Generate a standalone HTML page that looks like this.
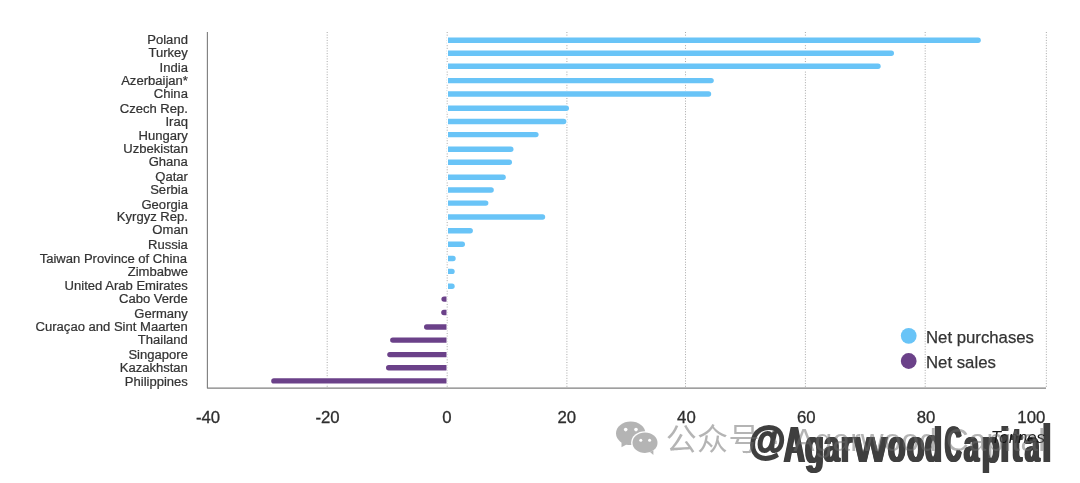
<!DOCTYPE html>
<html lang="en"><head><meta charset="utf-8"><title>Net purchases and net sales, tonnes</title>
<style>
html,body{margin:0;padding:0;background:#fff;}
body{width:1080px;height:483px;overflow:hidden;position:relative;font-family:"Liberation Sans","Noto Sans CJK SC",sans-serif;}
svg{position:absolute;left:0;top:0;display:block}
text{font-family:"Liberation Sans","Noto Sans CJK SC",sans-serif;}
.lab{font-size:13.05px;fill:#333;text-anchor:end;stroke:#333;stroke-width:0.22px}
.tick{font-size:16.75px;fill:#2e2e2e;stroke:#2e2e2e;stroke-width:0.3px}
.leg text{font-size:16.75px;fill:#333;stroke:#333;stroke-width:0.25px}
.grid{stroke:#a8a8a8;stroke-width:1;stroke-dasharray:1 1.64;fill:none}
.axis{stroke:#808080;stroke-width:1.15;fill:none;stroke-linejoin:round}
</style></head><body>
<svg width="1080" height="483" viewBox="0 0 1080 483">
<rect width="1080" height="483" fill="#fff"/>

<g class="grid">
<line x1="327.20" y1="32" x2="327.20" y2="388"/>
<line x1="447.20" y1="32" x2="447.20" y2="388"/>
<line x1="566.90" y1="32" x2="566.90" y2="388"/>
<line x1="685.50" y1="32" x2="685.50" y2="388"/>
<line x1="805.40" y1="32" x2="805.40" y2="388"/>
<line x1="925.20" y1="32" x2="925.20" y2="388"/>
<line x1="1046.35" y1="32" x2="1046.35" y2="388"/>
</g>
<g id="bars" stroke="#fff" stroke-width="2" paint-order="stroke">
<path d="M448.00 37.50 H978.10 A2.70 2.70 0 0 1 978.10 42.90 H448.00 Z" fill="#69c4f7"/>
<path d="M448.00 50.60 H891.30 A2.70 2.70 0 0 1 891.30 56.00 H448.00 Z" fill="#69c4f7"/>
<path d="M448.00 63.60 H878.00 A2.70 2.70 0 0 1 878.00 69.00 H448.00 Z" fill="#69c4f7"/>
<path d="M448.00 77.90 H711.10 A2.70 2.70 0 0 1 711.10 83.30 H448.00 Z" fill="#69c4f7"/>
<path d="M448.00 91.30 H708.50 A2.70 2.70 0 0 1 708.50 96.70 H448.00 Z" fill="#69c4f7"/>
<path d="M448.00 105.60 H566.30 A2.70 2.70 0 0 1 566.30 111.00 H448.00 Z" fill="#69c4f7"/>
<path d="M448.00 118.75 H563.70 A2.70 2.70 0 0 1 563.70 124.15 H448.00 Z" fill="#69c4f7"/>
<path d="M448.00 131.90 H535.90 A2.70 2.70 0 0 1 535.90 137.30 H448.00 Z" fill="#69c4f7"/>
<path d="M448.00 146.60 H510.80 A2.70 2.70 0 0 1 510.80 152.00 H448.00 Z" fill="#69c4f7"/>
<path d="M448.00 159.60 H509.30 A2.70 2.70 0 0 1 509.30 165.00 H448.00 Z" fill="#69c4f7"/>
<path d="M448.00 174.50 H503.10 A2.70 2.70 0 0 1 503.10 179.90 H448.00 Z" fill="#69c4f7"/>
<path d="M448.00 187.30 H491.10 A2.70 2.70 0 0 1 491.10 192.70 H448.00 Z" fill="#69c4f7"/>
<path d="M448.00 200.40 H485.70 A2.70 2.70 0 0 1 485.70 205.80 H448.00 Z" fill="#69c4f7"/>
<path d="M448.00 214.30 H542.50 A2.70 2.70 0 0 1 542.50 219.70 H448.00 Z" fill="#69c4f7"/>
<path d="M448.00 228.10 H470.20 A2.70 2.70 0 0 1 470.20 233.50 H448.00 Z" fill="#69c4f7"/>
<path d="M448.00 241.50 H462.30 A2.70 2.70 0 0 1 462.30 246.90 H448.00 Z" fill="#69c4f7"/>
<path d="M448.00 255.80 H453.00 A2.70 2.70 0 0 1 453.00 261.20 H448.00 Z" fill="#69c4f7"/>
<path d="M448.00 268.70 H452.00 A2.70 2.70 0 0 1 452.00 274.10 H448.00 Z" fill="#69c4f7"/>
<path d="M448.00 283.60 H452.00 A2.70 2.70 0 0 1 452.00 289.00 H448.00 Z" fill="#69c4f7"/>
<path d="M446.50 296.40 H444.10 A2.70 2.70 0 0 0 444.10 301.80 H446.50 Z" fill="#6b4189"/>
<path d="M446.50 309.75 H443.90 A2.70 2.70 0 0 0 443.90 315.15 H446.50 Z" fill="#6b4189"/>
<path d="M446.50 324.35 H426.70 A2.70 2.70 0 0 0 426.70 329.75 H446.50 Z" fill="#6b4189"/>
<path d="M446.50 337.40 H392.80 A2.70 2.70 0 0 0 392.80 342.80 H446.50 Z" fill="#6b4189"/>
<path d="M446.50 351.90 H389.90 A2.70 2.70 0 0 0 389.90 357.30 H446.50 Z" fill="#6b4189"/>
<path d="M446.50 365.10 H388.70 A2.70 2.70 0 0 0 388.70 370.50 H446.50 Z" fill="#6b4189"/>
<path d="M446.50 378.20 H273.90 A2.70 2.70 0 0 0 273.90 383.60 H446.50 Z" fill="#6b4189"/>
</g>
<path class="axis" d="M207.4 32 V388.05 H1046"/>
<g class="lab">
<text x="187.9" y="44.2">Poland</text>
<text x="187.9" y="57.1">Turkey</text>
<text x="187.9" y="71.7">India</text>
<text x="187.9" y="84.9">Azerbaijan*</text>
<text x="187.9" y="97.8">China</text>
<text x="187.9" y="112.5">Czech Rep.</text>
<text x="187.9" y="125.8">Iraq</text>
<text x="187.9" y="140.2">Hungary</text>
<text x="187.9" y="153.0">Uzbekistan</text>
<text x="187.9" y="165.9">Ghana</text>
<text x="187.9" y="180.9">Qatar</text>
<text x="187.9" y="193.8">Serbia</text>
<text x="187.9" y="208.7">Georgia</text>
<text x="187.9" y="221.2">Kyrgyz Rep.</text>
<text x="187.9" y="234.2">Oman</text>
<text x="187.9" y="249.4">Russia</text>
<text x="186.9" y="262.7">Taiwan Province of China</text>
<text x="187.9" y="276.0">Zimbabwe</text>
<text x="187.9" y="290.0">United Arab Emirates</text>
<text x="187.9" y="303.2">Cabo Verde</text>
<text x="187.9" y="317.7">Germany</text>
<text x="187.9" y="331.0">Curaçao and Sint Maarten</text>
<text x="187.9" y="343.7">Thailand</text>
<text x="187.9" y="358.6">Singapore</text>
<text x="187.9" y="371.7">Kazakhstan</text>
<text x="187.9" y="385.8">Philippines</text>
</g>
<g class="tick">
<text transform="translate(208.0 423.4) scale(1 0.945)" text-anchor="middle">-40</text>
<text transform="translate(327.5 423.4) scale(1 0.945)" text-anchor="middle">-20</text>
<text transform="translate(446.9 423.4) scale(1 0.945)" text-anchor="middle">0</text>
<text transform="translate(566.8 423.4) scale(1 0.945)" text-anchor="middle">20</text>
<text transform="translate(686.4 423.4) scale(1 0.945)" text-anchor="middle">40</text>
<text transform="translate(806.2 423.4) scale(1 0.945)" text-anchor="middle">60</text>
<text transform="translate(926.0 423.4) scale(1 0.945)" text-anchor="middle">80</text>
<text transform="translate(1045.3 423.4) scale(1 0.945)" text-anchor="end">100</text>
</g>
<g class="leg">
<circle cx="908.7" cy="335.8" r="7.9" fill="#69c4f7"/><text x="926" y="342.7">Net purchases</text>
<circle cx="908.7" cy="361" r="7.9" fill="#6b4189"/><text x="926" y="367.7">Net sales</text>
</g>
<text x="1045" y="443" text-anchor="end" font-size="16.75" font-style="italic" fill="#1a1a1a">Tonnes</text>
</svg>
<div id="wm-dark" style="position:absolute;left:748.80px;top:414.70px;height:60px;opacity:0.82;color:#151515;font-weight:bold;font-size:50px;line-height:60px;white-space:nowrap"><span style="display:inline-block;width:35.64px;font-size:40.5px;line-height:40px;vertical-align:7.67px;transform-origin:0 0;transform:scaleX(0.920);-webkit-text-stroke:2.2px #151515">@</span><span style="display:inline-block;width:20.69px;transform-origin:0 47.3px;transform:scale(0.5729,1.000);text-shadow:-2.30px 0 0 #151515,2.30px 0 0 #151515,-1.15px 0 0 #151515,1.15px 0 0 #151515">A</span><span style="display:inline-block;width:18.72px;position:relative;top:1.2px;transform-origin:0 47.3px;transform:scale(0.6174,0.950);text-shadow:-2.20px 0 0 #151515,2.20px 0 0 #151515,-1.10px 0 0 #151515,1.10px 0 0 #151515">g</span><span style="display:inline-block;width:17.62px;transform-origin:0 47.3px;transform:scale(0.5573,0.915);text-shadow:-2.20px 0 0 #151515,2.20px 0 0 #151515,-1.10px 0 0 #151515,1.10px 0 0 #151515">a</span><span style="display:inline-block;width:12.84px;transform-origin:0 47.3px;transform:scale(0.5690,0.915);text-shadow:-2.20px 0 0 #151515,2.20px 0 0 #151515,-1.10px 0 0 #151515,1.10px 0 0 #151515">r</span><span style="display:inline-block;width:34.12px;transform-origin:0 47.3px;transform:scale(0.8538,0.915);text-shadow:-1.00px 0 0 #151515,1.00px 0 0 #151515,-0.50px 0 0 #151515,0.50px 0 0 #151515">w</span><span style="display:inline-block;width:19.11px;transform-origin:0 47.3px;transform:scale(0.5684,0.915);text-shadow:-2.20px 0 0 #151515,2.20px 0 0 #151515,-1.10px 0 0 #151515,1.10px 0 0 #151515">o</span><span style="display:inline-block;width:17.99px;transform-origin:0 47.3px;transform:scale(0.5684,0.915);text-shadow:-2.20px 0 0 #151515,2.20px 0 0 #151515,-1.10px 0 0 #151515,1.10px 0 0 #151515">o</span><span style="display:inline-block;width:19.11px;transform-origin:0 47.3px;transform:scale(0.5488,1.000);text-shadow:-2.20px 0 0 #151515,2.20px 0 0 #151515,-1.10px 0 0 #151515,1.10px 0 0 #151515">d</span><span style="display:inline-block;width:19.13px;transform-origin:0 47.3px;transform:scale(0.4534,1.000);text-shadow:-3.00px 0 0 #151515,3.00px 0 0 #151515,-1.50px 0 0 #151515,1.50px 0 0 #151515">C</span><span style="display:inline-block;width:18.04px;transform-origin:0 47.3px;transform:scale(0.5340,0.915);text-shadow:-2.20px 0 0 #151515,2.20px 0 0 #151515,-1.10px 0 0 #151515,1.10px 0 0 #151515">a</span><span style="display:inline-block;width:19.39px;position:relative;top:1.2px;transform-origin:0 47.3px;transform:scale(0.5713,0.950);text-shadow:-2.20px 0 0 #151515,2.20px 0 0 #151515,-1.10px 0 0 #151515,1.10px 0 0 #151515">p</span><span style="display:inline-block;width:9.78px;transform-origin:0 47.3px;transform:scale(0.5465,1.000);text-shadow:-2.56px 0 0 #151515,2.56px 0 0 #151515,-1.28px 0 0 #151515,1.28px 0 0 #151515">i</span><span style="display:inline-block;width:14.20px;transform-origin:0 47.3px;transform:scale(0.6821,1.000);text-shadow:-1.60px 0 0 #151515,1.60px 0 0 #151515,-0.80px 0 0 #151515,0.80px 0 0 #151515">t</span><span style="display:inline-block;width:18.00px;transform-origin:0 47.3px;transform:scale(0.5212,0.915);text-shadow:-2.20px 0 0 #151515,2.20px 0 0 #151515,-1.10px 0 0 #151515,1.10px 0 0 #151515">a</span><span style="display:inline-block;width:10.00px;transform-origin:0 47.3px;transform:scale(0.5482,1.070);text-shadow:-2.57px 0 0 #151515,2.57px 0 0 #151515,-1.28px 0 0 #151515,1.28px 0 0 #151515">l</span></div>
<svg width="1080" height="483" viewBox="0 0 1080 483" style="opacity:0.5">
<g id="wm-gray" fill="#6c6c6c">
<ellipse cx="630.7" cy="433.3" rx="14.7" ry="11.8"/>
<path d="M621.5 442 L621.5 447.3 L627 444.3 Z"/>
<ellipse cx="645" cy="442.8" rx="13.9" ry="11.6" fill="#fff"/>
<ellipse cx="645" cy="442.8" rx="12.5" ry="10.2"/>
<path d="M650 452 L653.4 455.1 L653.4 450.3 Z"/>
<circle cx="625.7" cy="429.6" r="1.8" fill="#fff"/><circle cx="636" cy="429.6" r="1.8" fill="#fff"/>
<circle cx="640.8" cy="440.2" r="1.5" fill="#fff"/><circle cx="649.6" cy="440.2" r="1.5" fill="#fff"/>
<text x="665.8" y="450.1" font-size="31" letter-spacing="0.3">公众号</text>
<text x="770" y="450.5" font-size="31.5" letter-spacing="0.2">·</text>
<text x="793.5" y="450.5" font-size="31.5" letter-spacing="0.2">Agarwood Capital</text>
</g></svg>
</body></html>
